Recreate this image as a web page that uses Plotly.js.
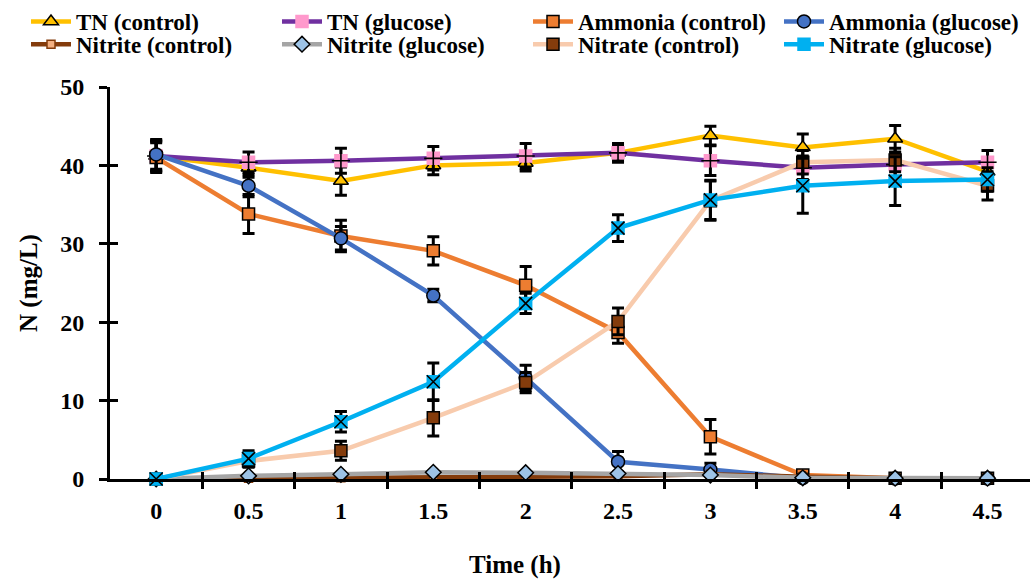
<!DOCTYPE html>
<html>
<head>
<meta charset="utf-8">
<script src="https://cdn.plot.ly/plotly-3.0.1.min.js"></script>
<style>html,body{margin:0;padding:0;background:#fff}#chart{width:1030px;height:579px}</style>
</head>
<body>
<div id="chart"></div>
<script>
var time = [0, 0.5, 1, 1.5, 2, 2.5, 3, 3.5, 4, 4.5];
var tickLabels = ["0", "0.5", "1", "1.5", "2", "2.5", "3", "3.5", "4", "4.5"];

var tnControl = [41.2, 39.7, 38.0, 40.0, 40.3, 41.6, 43.8, 42.3, 43.4, 39.2];
var tnControlErr = [1.9, 1.2, 1.8, 1.2, 1.0, 1.0, 1.2, 1.7, 1.7, 1.5];
var tnGlucose = [41.2, 40.4, 40.6, 40.9, 41.2, 41.6, 40.6, 39.7, 40.1, 40.4];
var tnGlucoseErr = [1.9, 1.3, 1.6, 1.5, 1.6, 1.2, 1.9, 1.5, 1.5, 1.5];
var ammControl = [41.0, 33.8, 31.0, 29.1, 24.7, 18.7, 5.4, 0.5, 0.1, 0.1];
var ammControlErr = [1.9, 2.5, 2.0, 1.8, 2.4, 1.4, 2.2, 0.3, 0.2, 0.2];
var ammGlucose = [41.4, 37.4, 30.7, 23.4, 12.9, 2.2, 1.2, 0.1, 0.05, 0.05];
var ammGlucoseErr = [1.9, 1.4, 1.5, 0.8, 1.6, 1.3, 0.8, 0.1, 0.1, 0.1];
var nitriteControl = [0, 0.1, 0.15, 0.25, 0.3, 0.35, 0.6, 0.3, 0.1, 0.05];
var nitriteControlErr = [0, 0, 0, 0, 0, 0, 0, 0, 0, 0];
var nitriteGlucose = [0, 0.4, 0.6, 0.85, 0.8, 0.7, 0.5, 0.15, 0.1, 0.1];
var nitriteGlucoseErr = [0, 0, 0, 0, 0, 0, 0, 0, 0, 0];
var nitrateControl = [0, 2.3, 3.6, 7.8, 12.3, 20.1, 35.5, 40.4, 40.7, 37.4];
var nitrateControlErr = [0, 0.8, 1.2, 2.3, 1.3, 1.7, 2.5, 1.5, 1.5, 1.8];
var nitrateGlucose = [0, 2.6, 7.3, 12.4, 22.4, 32.0, 35.6, 37.4, 38.0, 38.2];
var nitrateGlucoseErr = [0, 1.0, 1.3, 2.4, 1.3, 1.7, 2.5, 3.5, 3.1, 1.5];

var boundaries = [0.25, 0.75, 1.25, 1.75, 2.25, 2.75, 3.25, 3.75, 4.25, 4.75];
var yTicks = [0, 10, 20, 30, 40, 50];

var FONT = "Liberation Serif, Times New Roman, serif";

function err(arr) {
  return {type: 'data', array: arr, visible: true, color: '#000000', thickness: 3, width: 6};
}
function series(name, y, e, lineColor, symbol, fill, size, mline, leg) {
  return {
    type: 'scatter', mode: 'lines+markers', name: name, x: time, y: y, legend: leg,
    error_y: err(e), cliponaxis: false,
    line: {color: lineColor, width: 4.5},
    marker: {symbol: symbol, color: fill, size: size, line: {color: mline || '#000000', width: 1.5}}
  };
}
function overlay(y, symbol) {
  return {
    type: 'scatter', mode: 'markers', x: time, y: y, showlegend: false, hoverinfo: 'skip', cliponaxis: false,
    marker: {symbol: symbol, size: 13, color: '#000000', line: {color: '#000000', width: 1.6}}
  };
}

var traces = [
  series('TN (control)', tnControl, tnControlErr, '#FFC000', 'triangle-up', '#FFC000', 13, null, 'legend'),
  series('TN (glucose)', tnGlucose, tnGlucoseErr, '#7030A0', 'square', '#FF99CC', 12, '#FF99CC', 'legend'),
  overlay(tnGlucose, 'cross-thin-open'),
  series('Ammonia (control)', ammControl, ammControlErr, '#ED7D31', 'square', '#ED7D31', 12, null, 'legend'),
  series('Ammonia (glucose)', ammGlucose, ammGlucoseErr, '#4472C4', 'circle', '#4472C4', 13, null, 'legend'),
  series('Nitrite (control)', nitriteControl, nitriteControlErr, '#843C0C', 'square', '#F4B183', 8, '#843C0C', 'legend2'),
  series('Nitrite (glucose)', nitriteGlucose, nitriteGlucoseErr, '#A5A5A5', 'diamond', '#9DC3E6', 12, null, 'legend2'),
  series('Nitrate (control)', nitrateControl, nitrateControlErr, '#F8CBAD', 'square', '#843C0C', 12, null, 'legend2'),
  series('Nitrate (glucose)', nitrateGlucose, nitrateGlucoseErr, '#00B0F0', 'square', '#00B0F0', 12, '#00B0F0', 'legend2'),
  overlay(nitrateGlucose, 'x-thin-open'),
  {type: 'scatter', x: [], y: [], xaxis: 'x2', yaxis: 'y2', showlegend: false, hoverinfo: 'skip'}
];

function legendBox(y) {
  return {
    orientation: 'h', xref: 'paper', yref: 'paper', x: -0.0476, xanchor: 'left', y: y, yanchor: 'top',
    font: {family: FONT, size: 23, color: '#000000', weight: 'bold'},
    entrywidth: 196, entrywidthmode: 'pixels', itemwidth: 40, tracegroupgap: 0,
    bgcolor: 'rgba(0,0,0,0)'
  };
}

var xr = [-0.25, 4.73];
var layout = {
  width: 1030, height: 579,
  margin: {l: 110, r: 0, t: 86, b: 100},
  paper_bgcolor: '#ffffff', plot_bgcolor: '#ffffff',
  font: {family: FONT, color: '#000000', size: 22, weight: 'bold'},
  showlegend: true,
  legend: legendBox(1.222),
  legend2: legendBox(1.161),
  xaxis: {
    range: xr, showgrid: false, zeroline: false,
    showline: true, linecolor: '#000000', linewidth: 3,
    tickmode: 'array', tickvals: time, ticktext: tickLabels, ticks: '', ticklabelstandoff: 8,
    tickfont: {family: FONT, size: 24, color: '#000000', weight: 'bold'},
    minor: {tickmode: 'array', tickvals: boundaries, ticks: 'outside', ticklen: 7, tickwidth: 3, tickcolor: '#000000', showgrid: false}
  },
  yaxis: {
    range: [0, 50], showgrid: false, zeroline: false,
    showline: true, linecolor: '#000000', linewidth: 3,
    tickmode: 'array', tickvals: yTicks, ticks: 'outside', ticklen: 8, tickwidth: 3, tickcolor: '#000000',
    ticklabelstandoff: 10,
    tickfont: {family: FONT, size: 24, color: '#000000', weight: 'bold'},
    title: {text: 'N (mg/L)', standoff: 16, font: {family: FONT, size: 25, color: '#000000', weight: 'bold'}}
  },
  xaxis2: {
    overlaying: 'x', anchor: 'y2', range: xr, showgrid: false, zeroline: false, showline: false,
    tickmode: 'array', tickvals: boundaries, ticks: 'inside', ticklen: 7, tickwidth: 3, tickcolor: '#000000',
    showticklabels: false
  },
  yaxis2: {
    overlaying: 'y', anchor: 'x2', side: 'left', range: [0, 50], showgrid: false, zeroline: false, showline: false,
    tickmode: 'array', tickvals: yTicks, ticks: 'inside', ticklen: 8, tickwidth: 3, tickcolor: '#000000',
    showticklabels: false
  },
  annotations: [{
    text: 'Time (h)', xref: 'paper', yref: 'paper', x: 0.44, y: -0.219, xanchor: 'center', yanchor: 'middle',
    showarrow: false, font: {family: FONT, size: 25, color: '#000000', weight: 'bold'}
  }]
};

Plotly.newPlot('chart', traces, layout, {displayModeBar: false, staticPlot: true});
</script>
</body>
</html>
